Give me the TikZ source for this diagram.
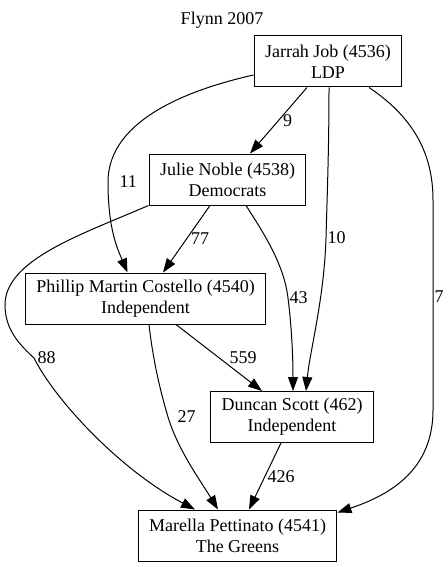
\documentclass[tikz,border=0pt]{standalone}
\usepackage{fontspec}
\setmainfont{Liberation Serif}
\usetikzlibrary{arrows.meta}
\tikzset{cand/.style={draw, line width=1pt, align=center, inner xsep=11pt,
                      minimum height=51pt, font=\fontsize{18}{21}\selectfont}}
\tikzset{vote/.style={-{Triangle[length=14pt,width=10pt]}, line width=1pt}}
\tikzset{lbl/.style={font=\fontsize{18}{21}\selectfont, inner sep=1pt}}

\begin{document}
\begin{tikzpicture}[x=1pt, y=-1pt]
                \useasboundingbox (0,0) rectangle (447,567);

                \node[lbl] (title) at (222, 20) {Flynn 2007};

                \node[cand] (jarrah) at (328, 61.5) {Jarrah Job (4536)\\LDP};
                \node[cand] (julie) at (227.5, 179.5) {Julie Noble (4538)\\Democrats};
                \node[cand] (phillip) at (145.5, 298.5) {Phillip Martin Costello (4540)\\Independent};
                \node[cand] (duncan) at (292, 417) {Duncan Scott (462)\\Independent};
                \node[cand] (marella) at (237.5, 535.5) {Marella Pettinato (4541)\\The Greens};

                \draw[vote] ([xshift=-21pt]jarrah.south) -- node[lbl, pos=.5, anchor=west, xshift=3pt] {9} ([xshift=22.5pt]julie.north);
                \draw[vote] ([yshift=-13.5pt]jarrah.west) .. controls (165,95) and (108,130) .. (108,182)
                      node[lbl, anchor=west, xshift=10pt] {11}
                      .. controls (108,230) and (118,250) .. ([xshift=-18pt]phillip.north);
                \draw[vote] ([xshift=1pt]jarrah.south) .. controls (329,150) and (327,200) .. (326,238)
                      node[lbl, anchor=west] {10}
                      .. controls (324,300) and (310,350) .. ([xshift=14pt]duncan.north);
                \draw[vote] ([xshift=41pt]jarrah.south) .. controls (410,115) and (433,150) .. (433,200) -- (433,297)
                      node[lbl, anchor=west] {7}
                      -- (433,410) .. controls (433,470) and (390,495) .. ([yshift=-3pt]marella.north east);

                \draw[vote] ([xshift=-17.5pt]julie.south) -- node[lbl, pos=.5, anchor=west, xshift=3pt] {77} ([xshift=17.5pt]phillip.north);
                \draw[vote] ([xshift=18.5pt]julie.south) .. controls (265,235) and (284,265) .. (288,298)
                      node[lbl, anchor=west] {43}
                      .. controls (292,330) and (293,360) .. ([xshift=1pt]duncan.north);
                \draw[vote] (julie.south west) .. controls (80,235) and (5,260) .. (5,305)
                      .. controls (5,330) and (20,345) .. (34,358)
                      node[lbl, anchor=west, xshift=2pt] {88}
                      .. controls (55,400) and (120,470) .. ([xshift=-42.5pt]marella.north);

                \draw[vote] ([xshift=30.5pt]phillip.south) -- node[lbl, pos=.5, anchor=west, xshift=9pt] {559} ([xshift=-30pt]duncan.north);
                \draw[vote] ([xshift=3.5pt]phillip.south) .. controls (153,360) and (160,390) .. (168,417)
                      node[lbl, anchor=west, xshift=8pt] {27}
                      .. controls (178,450) and (200,480) .. ([xshift=-19.5pt]marella.north);

                \draw[vote] ([xshift=-11pt]duncan.south) -- node[lbl, pos=.5, anchor=west, xshift=1pt] {426} ([xshift=11.5pt]marella.north);
\end{tikzpicture}
\end{document}
